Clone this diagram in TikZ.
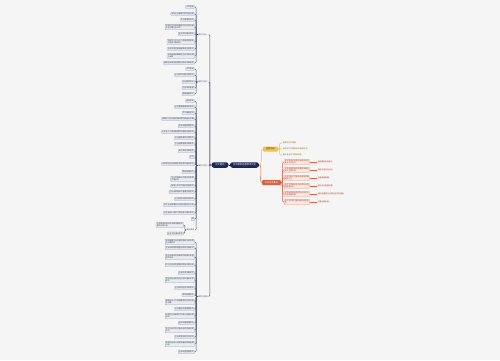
\documentclass[tikz,border=0pt]{standalone}
\usepackage{fontspec}
\newfontfamily\cjk{Noto Sans CJK SC}
\definecolor{bg}{HTML}{F5F5F5}
\definecolor{navy}{HTML}{1E2858}
\definecolor{lk}{HTML}{4C5878}
\definecolor{leaffill}{HTML}{E9EBF0}
\definecolor{leafdraw}{HTML}{9AA2B5}
\definecolor{leaftext}{HTML}{3C4458}
\definecolor{yel}{HTML}{F4C242}
\definecolor{yeltext}{HTML}{8C6A14}
\definecolor{red}{HTML}{D4634A}
\definecolor{pinkfill}{HTML}{FBE8E3}
\definecolor{pinkdraw}{HTML}{E39A88}
\definecolor{redtext}{HTML}{A8432E}
\tikzset{
  leafbox/.style={draw=leafdraw, fill=leaffill, line width=0.25pt, rounded corners=0.5pt, inner sep=0.7pt, font=\cjk\fontsize{1.85}{2.15}\selectfont, text=leaftext, anchor=east, align=left},
  grp/.style={inner sep=0.5pt, font=\cjk\fontsize{1.9}{2.3}\selectfont, text=leaftext, anchor=east},
  lkline/.style={draw=lk, line width=0.45pt, rounded corners=1pt},
  navybox/.style={fill=navy, text=white, rounded corners=2.5pt, inner sep=1pt, minimum height=5.5pt, font=\cjk\fontsize{2.3}{2.8}\selectfont},
  yelbox/.style={fill=yel, text=black!80, rounded corners=1pt, inner sep=1pt, minimum height=5pt, font=\cjk\fontsize{2.2}{2.7}\selectfont},
  redbox/.style={fill=red, text=white, rounded corners=1pt, inner sep=1pt, minimum height=5pt, font=\cjk\fontsize{2.2}{2.7}\selectfont},
  yelleaf/.style={inner sep=0.6pt, font=\cjk\fontsize{1.9}{2.3}\selectfont, text=yeltext, anchor=west},
  pinkleaf/.style={draw=pinkdraw, fill=pinkfill, line width=0.25pt, rounded corners=0.5pt, inner sep=0.7pt, font=\cjk\fontsize{1.85}{2.15}\selectfont, text=redtext, anchor=west, align=left},
  pinkkid/.style={fill=pinkfill, inner sep=0.6pt, font=\cjk\fontsize{1.85}{2.15}\selectfont, text=redtext, anchor=west},
  yline/.style={draw=yel, line width=0.5pt, rounded corners=1pt},
  rline/.style={draw=red, line width=0.5pt, rounded corners=1pt}
}
\begin{document}
\begin{tikzpicture}[x=1pt,y=-1pt]
\useasboundingbox[fill=bg] (0,0) rectangle (500,360);

% central
\node[navybox, minimum width=29pt] (root) at (244.5,165) {论文题目选题参考大全};
\node[navybox, minimum width=17pt] (left) at (220,165) {论文题目};
\draw[draw=navy, line width=0.6pt] (root.west) -- (left.east);

% level 2 (left)
\node[grp] (g1) at (208.5,34.5) {研究方向一};
\node[grp] (g2) at (208.5,82) {研究方向二};
\node[grp] (g3) at (208.5,165.5) {研究方向三};
\node[grp] (g4) at (208.5,296.5) {研究方向四};
\foreach \g in {g1,g2,g3,g4}{
  \draw[lkline] (left.west) -- ++(-1.5,0) |- (\g.east);
}

% group 1
\foreach \y/\t [count=\i] in {
 7/{论文题目},
 14/{浅析企业管理中的创新问题},
 20/{关于管理的研究},
 27/{论现代企业财务管理中存在的问题\\及其对策分析研究},
 34/{企业文化建设研究},
 42/{浅谈中小企业人力资源管理现状\\与发展对策研究},
 49/{企业内部控制制度建设问题研究},
 56/{论市场营销策略在企业中的应用\\与实践},
 63/{我国企业绩效管理的问题及对策研究}}{
  \node[leafbox] (a\i) at (194.5,\y) {\t};
  \draw[lkline] (g1.west) -- ++(-1.5,0) |- (a\i.east);
}

% group 2
\foreach \y/\t [count=\i] in {
 69/{论文题目},
 75/{企业成本控制问题研究},
 82/{企业融资研究},
 88/{企业风险管理},
 94/{营销策略研究}}{
  \node[leafbox] (b\i) at (194.5,\y) {\t};
  \draw[lkline] (g2.west) -- ++(-1.5,0) |- (b\i.east);
}

% group 3
\foreach \y/\t [count=\i] in {
 101/{题目参考},
 107/{企业薪酬管理体系研究},
 113/{员工激励研究},
 119/{我国中小企业融资难问题的原因及对策},
 126/{企业战略管理研究},
 132/{论企业人力资源管理中的激励机制研究},
 138/{企业税务筹划问题研究},
 144/{企业预算管理问题研究},
 151/{电子商务发展研究},
 157/{论文},
 164/{浅谈现代企业管理中的信息化建设研究},
 172/{物流管理研究},
 179/{企业内部审计的现状及发展\\对策研究},
 186/{我国上市公司股利政策研究},
 192/{企业品牌建设与管理问题研究},
 199/{企业财务风险防范研究},
 205/{关于企业管理会计应用问题研究分析},
 213/{论企业核心竞争力的培育与提升研究},
 219/{题}}{
  \node[leafbox] (c\i) at (194.5,\y) {\t};
  \draw[lkline] (g3.west) -- ++(-1.5,0) |- (c\i.east);
}
\node[grp] (c20) at (195,230) {其他参考};
\draw[lkline] (g3.west) -- ++(-1.5,0) |- (c20.east);
\node[leafbox] (d1) at (183.5,225) {企业管理创新与可持续发展研究\\相关问题分析};
\node[leafbox] (d2) at (183.5,233.5) {企业文化建设研究};
\foreach \d in {d1,d2}{
  \draw[lkline] (c20.west) -- ++(-1.2,0) |- (\d.east);
}

% group 4
\foreach \y/\t [count=\i] in {
 242/{浅析我国企业内部控制存在的问题\\及对策研究},
 248/{企业应收账款管理问题及对策研究},
 257/{论企业绩效考核体系的构建与完善\\研究分析},
 265/{中小企业财务管理问题及对策分析},
 273/{企业投资决策研究},
 280/{论企业社会责任与企业价值的关系\\研究},
 288/{企业并购财务风险研究},
 295/{成本管理研究},
 302/{我国企业人力资源管理存在的问题\\及对策},
 309/{企业营运资金管理研究},
 316/{论现代企业制度下的会计监督问题\\研究},
 323/{企业信用管理研究},
 330/{关于企业财务分析体系的构建问题\\研究},
 337/{企业资本结构优化研究},
 344/{浅谈企业会计信息质量的影响因素\\分析},
 352/{企业经营管理研究}}{
  \node[leafbox] (e\i) at (194.5,\y) {\t};
  \draw[lkline] (g4.west) -- ++(-1.5,0) |- (e\i.east);
}

% right: yellow branch
\node[yelbox, minimum width=15pt] (ybr) at (270.5,149) {选题方向};
\draw[yline] (root.east) .. controls +(4,0) and +(-3,0) .. (ybr.west);
\foreach \y/\t [count=\i] in {
 143/{管理学论文题目},
 149/{经济学论文题目参考选题方向},
 155/{会计专业论文题目参考}}{
  \node[yelleaf] (y\i) at (282,\y) {\t};
  \draw[yline] (ybr.east) -- ++(1.5,0) |- (y\i.west);
}

% right: red branch
\node[redbox, minimum width=19pt] (rbr) at (271.5,182.5) {论文写作要点};
\draw[rline] (root.east) .. controls +(4,0) and +(-3,0) .. (rbr.west);
\foreach \y/\t/\k [count=\i] in {
 162/{论文题目的选择应当结合自身\\专业方向进行}/{选题要有实际意义},
 170/{论文题目要简明扼要能够概括\\全文主要内容}/{题目不宜过长过大},
 178/{论文的研究内容应当具体明确\\避免空泛}/{内容具体明确},
 186/{论文写作要有充分的资料支撑\\和数据分析}/{资料充分数据可靠},
 194/{论文结构要合理层次分明论证\\严密逻辑清晰}/{结构合理层次分明论证严密清晰},
 202/{论文写作要注重创新性和实用\\性}/{注重创新实用}}{
  \node[pinkleaf] (r\i) at (284,\y) {\t};
  \node[pinkkid] (k\i) at (317,\y) {\k};
  \draw[rline] (rbr.east) -- ++(1.5,0) |- (r\i.west);
  \draw[draw=red, line width=0.35pt] (r\i.east) -- (k\i.west);
}
\end{tikzpicture}
\end{document}
